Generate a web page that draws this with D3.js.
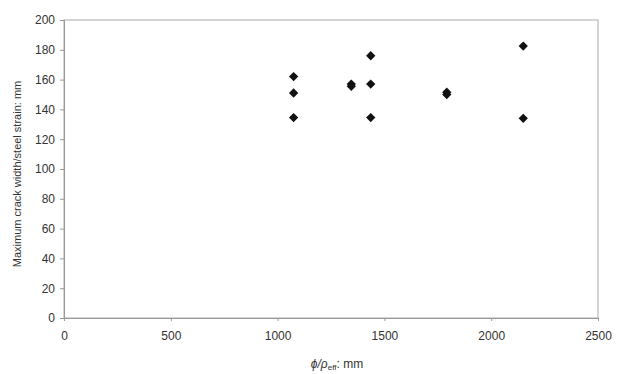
<!DOCTYPE html>
<html>
<head>
<meta charset="utf-8">
<script src="https://cdn.jsdelivr.net/npm/d3@7"></script>
<style>
	body { margin: 0; background: #fff; }
	text { font-family: "Liberation Sans", Arial, sans-serif; fill: #333; }
</style>
</head>
<body>
<div id="chart"></div>
<script>
// phi / rho_eff (mm) and max crack width / steel strain (mm)
var xValues = [1075, 1075, 1075, 1345, 1345, 1436, 1436, 1436, 1792, 1792, 2150, 2150]
var yValues = [162, 151, 134.5, 155.5, 157, 176, 157, 134.5, 150, 151.5, 182.5, 134]
var xTicks = [0, 500, 1000, 1500, 2000, 2500]
var yTicks = [0, 20, 40, 60, 80, 100, 120, 140, 160, 180, 200]

drawChart()

function drawChart() {
	var data = []
	for (var i = 0; i < xValues.length; i++) {
		data.push({ x: xValues[i], y: yValues[i] })
	}

	var svg = d3.select("#chart")
		.append("svg")
		.attr("width", 619)
		.attr("height", 374)

	const xScale = d3.scaleLinear()
		.domain([0, 2500])
		.range([64, 598]);

	const yScale = d3.scaleLinear()
		.domain([0, 200])
		.range([318, 20]);

	// plot area border (top / right)
	svg.append("rect")
		.attr("x", xScale(0))
		.attr("y", yScale(200))
		.attr("width", xScale(2500) - xScale(0))
		.attr("height", yScale(0) - yScale(200))
		.style("fill", "none")
		.style("stroke", "#aaa")
		.style("stroke-width", "1px")

	const xAxis = d3.axisBottom(xScale).tickValues(xTicks).tickFormat(d3.format("d")).tickSize(3).tickPadding(10);
	const yAxis = d3.axisLeft(yScale).tickValues(yTicks).tickFormat(d3.format("d")).tickSize(4).tickPadding(5);

	var gx = svg.append('g')
		.attr('transform', 'translate(0, 318)')
		.call(xAxis);

	var gy = svg.append('g')
		.attr('transform', 'translate(64, 0)')
		.call(yAxis);

	[gx, gy].forEach(function(g) {
		g.select(".domain").style("stroke", "#999")
		g.selectAll(".tick line").style("stroke", "#999")
		g.selectAll(".tick text")
			.style("font-size", "12px")
			.style("font-family", "'Liberation Sans', Arial, sans-serif")
			.style("fill", "#333")
	})

	// diamond markers
	const diamond = d3.symbol().type(d3.symbolDiamond2).size(55);

	svg.selectAll('.pt')
		.data(data)
		.join('path')
		.attr('class', 'pt')
		.attr('d', diamond)
		.attr('transform', d => `translate(${xScale(d.x)},${yScale(d.y)})`)
		.style("fill", "#111")

	// axis titles
	svg.append("text")
		.attr("transform", "translate(21, 174) rotate(-90)")
		.style("text-anchor", "middle")
		.style("font-size", "11px")
		.text("Maximum crack width/steel strain: mm")

	var xt = svg.append("text")
		.attr("x", 337)
		.attr("y", 368)
		.style("text-anchor", "middle")
		.style("font-size", "12px")
	xt.append("tspan").style("font-style", "italic").text("ϕ/ρ")
	xt.append("tspan").attr("dy", 2).style("font-size", "8px").text("eff")
	xt.append("tspan").attr("dy", -2).text(": mm")
}
</script>
</body>
</html>
